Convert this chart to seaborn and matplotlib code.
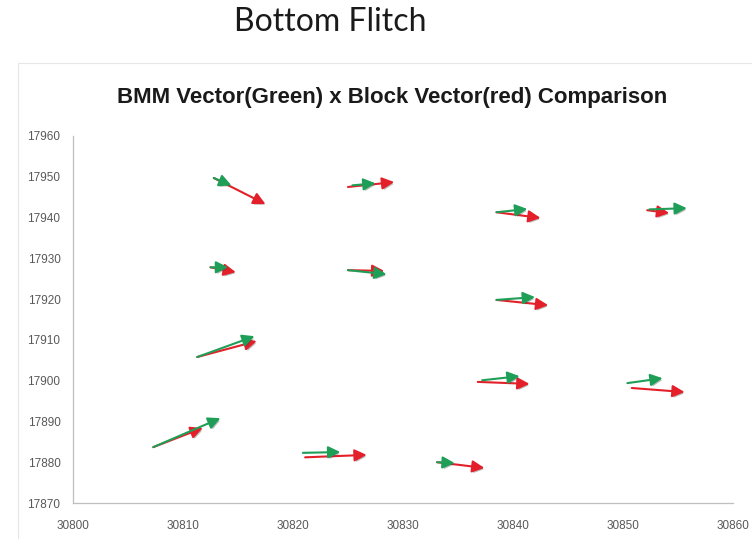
import matplotlib
matplotlib.use("Agg")
import matplotlib.pyplot as plt
import matplotlib.patheffects as pe
from matplotlib.patches import Rectangle
import seaborn as sns
import pandas as pd

# BMM vectors (green): start and end points
bmm_x0 = [30812.8, 30825.4, 30838.5, 30852.4, 30812.5, 30825.0, 30838.5, 30811.3, 30837.2, 30850.4, 30807.3, 30820.9, 30833.1]
bmm_y0 = [17949.7, 17947.9, 17941.3, 17942.0, 17927.8, 17927.1, 17919.8, 17905.8, 17900.1, 17899.4, 17883.7, 17882.3, 17880.0]
bmm_x1 = [30814.4, 30827.5, 30841.3, 30855.8, 30814.1, 30828.5, 30842.0, 30816.5, 30840.6, 30853.6, 30813.4, 30824.3, 30834.7]
bmm_y1 = [17947.9, 17948.4, 17942.1, 17942.3, 17927.8, 17926.1, 17920.5, 17910.9, 17901.1, 17900.6, 17890.8, 17882.5, 17879.8]

# Block vectors (red): start and end points
blk_x0 = [30812.8, 30825.0, 30838.5, 30852.2, 30812.5, 30825.0, 30838.5, 30811.3, 30836.8, 30850.8, 30807.3, 30821.1, 30833.1]
blk_y0 = [17949.7, 17947.5, 17941.3, 17941.8, 17927.8, 17927.1, 17919.8, 17905.8, 17899.7, 17898.2, 17883.7, 17881.2, 17880.0]
blk_x1 = [30817.5, 30829.2, 30842.5, 30854.2, 30814.8, 30828.3, 30843.2, 30816.7, 30841.5, 30855.6, 30811.8, 30826.7, 30837.4]
blk_y1 = [17943.3, 17948.7, 17939.9, 17941.1, 17926.6, 17926.9, 17918.5, 17909.7, 17899.2, 17897.2, 17888.4, 17881.8, 17878.6]

x_ticks = [30800, 30810, 30820, 30830, 30840, 30850, 30860]
y_ticks = [17870, 17880, 17890, 17900, 17910, 17920, 17930, 17940, 17950, 17960]

page_title = "Bottom Flitch"
chart_title = "BMM Vector(Green) x Block Vector(red) Comparison"

bmm = pd.DataFrame({"x0": bmm_x0, "y0": bmm_y0, "x1": bmm_x1, "y1": bmm_y1})
blk = pd.DataFrame({"x0": blk_x0, "y0": blk_y0, "x1": blk_x1, "y1": blk_y1})

sns.set_theme(style="white")
plt.rcParams["font.family"] = ["Liberation Sans", "DejaVu Sans"]

fig = plt.figure(figsize=(7.52, 5.39), dpi=100)
fig.patch.set_facecolor("white")

# light chart-area frame
fig.patches.append(Rectangle((18 / 752, -0.02), 1.0, 1 - 63 / 539 + 0.02,
                             transform=fig.transFigure, fill=False,
                             edgecolor="#e6e6e6", linewidth=0.8))

ax = fig.add_axes([73 / 752, 1 - 503 / 539, 660 / 752, 367 / 539])
ax.set_xlim(x_ticks[0], x_ticks[-1])
ax.set_ylim(y_ticks[0], y_ticks[-1])
ax.set_xticks(x_ticks)
ax.set_yticks(y_ticks)
ax.set_xticklabels([str(t) for t in x_ticks])
ax.set_yticklabels([str(t) for t in y_ticks])
ax.tick_params(axis="both", length=0, labelsize=8.5, colors="#595959")
ax.tick_params(axis="x", pad=12)
ax.tick_params(axis="y", pad=9)
sns.despine(ax=ax)
for s in ("left", "bottom"):
    ax.spines[s].set_color("#bfbfbf")
    ax.spines[s].set_linewidth(0.9)
ax.grid(False)

shadow = [pe.SimplePatchShadow(offset=(1.2, -1.2), shadow_rgbFace=(0.25, 0.25, 0.25), alpha=0.35), pe.Normal()]


def draw_vectors(frame, color):
    for r in frame.itertuples():
        ax.annotate("", xy=(r.x1, r.y1), xytext=(r.x0, r.y0),
                    xycoords="data", textcoords="data",
                    arrowprops=dict(arrowstyle="-|>,head_length=0.6,head_width=0.3",
                                    color=color, lw=1.5, shrinkA=0, shrinkB=0,
                                    path_effects=shadow))


draw_vectors(blk, "#e3202a")
draw_vectors(bmm, "#1f9e58")

fig.text(330 / 752, 1 - 22 / 539, page_title, ha="center", va="center",
         fontsize=23, color="#1a1a1a", family=["Lato", "DejaVu Sans"])
fig.text(392 / 752, 1 - 97 / 539, chart_title, ha="center", va="center",
         fontsize=16, fontweight="bold", color="#1a1a1a",
         family=["Liberation Sans", "DejaVu Sans"])

fig.savefig("out.png", dpi=100, facecolor="white")
